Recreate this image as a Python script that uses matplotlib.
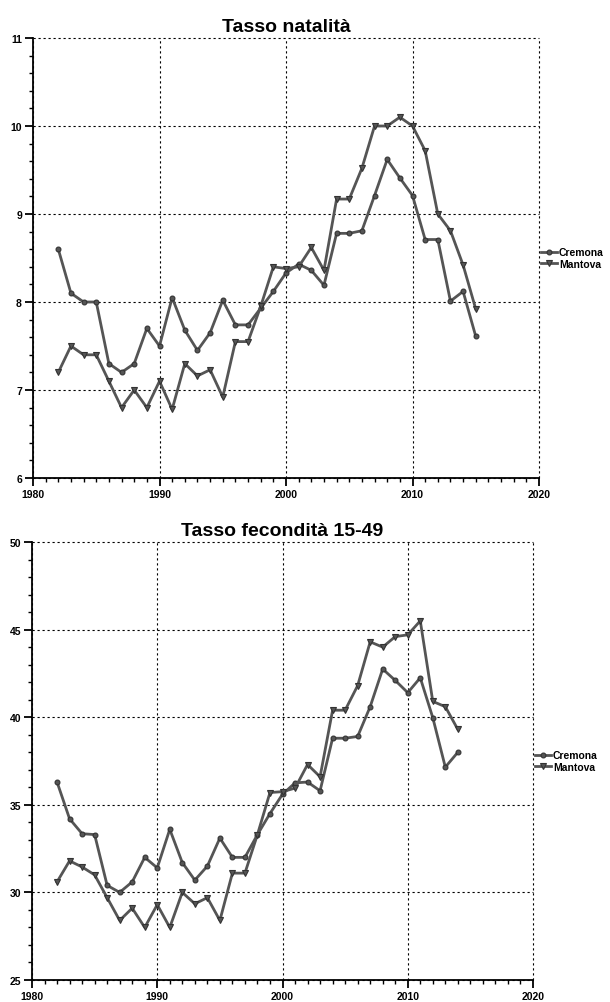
import numpy as np
import matplotlib
matplotlib.use('Agg')
import matplotlib.pyplot as plt
from matplotlib.ticker import MultipleLocator

# anni
anni = list(range(1982, 2016))
anni_fec = list(range(1982, 2015))

# Tasso natalità
natalita_cremona = [8.6, 8.1, 8.0, 8.0, 7.3, 7.2, 7.3, 7.7, 7.5, 8.05,
                    7.68, 7.45, 7.65, 8.02, 7.74, 7.74, 7.93, 8.12, 8.33, 8.43,
                    8.36, 8.19, 8.78, 8.78, 8.81, 9.21, 9.62, 9.41, 9.21, 8.71,
                    8.71, 8.01, 8.12, 7.61]
natalita_mantova = [7.2, 7.5, 7.4, 7.4, 7.1, 6.8, 7.0, 6.8, 7.1, 6.78,
                    7.3, 7.16, 7.23, 6.92, 7.55, 7.55, 7.95, 8.4, 8.38, 8.4,
                    8.62, 8.36, 9.17, 9.17, 9.52, 10.0, 10.0, 10.1, 10.0, 9.72,
                    9.0, 8.81, 8.42, 7.92]

# Tasso fecondità 15-49
fecondita_cremona = [36.3, 34.2, 33.35, 33.3, 30.4, 30.0, 30.6, 32.0, 31.4, 33.6,
                     31.7, 30.7, 31.5, 33.1, 32.0, 32.0, 33.3, 34.5, 35.6, 36.25,
                     36.3, 35.8, 38.8, 38.8, 38.9, 40.6, 42.75, 42.1, 41.4, 42.25,
                     39.97, 37.15, 38.0]
fecondita_mantova = [30.6, 31.8, 31.45, 31.0, 29.7, 28.4, 29.1, 28.0, 29.3, 28.0,
                     30.0, 29.35, 29.7, 28.4, 31.1, 31.1, 33.3, 35.7, 35.75, 35.95,
                     37.3, 36.6, 40.4, 40.4, 41.8, 44.3, 44.0, 44.6, 44.7, 45.5,
                     40.9, 40.6, 39.3]

line_col = '#555555'
edge_col = '#333333'
tick_font = ['Liberation Sans Narrow', 'Liberation Sans', 'DejaVu Sans']

fig = plt.figure(figsize=(6.10, 10.03), dpi=100)
W, H = 610, 1003


def make_axes(left, top, right, bottom):
    return fig.add_axes([left / W, 1 - bottom / H, (right - left) / W, (bottom - top) / H])


def draw(ax, x, cre, man, ylim, ymaj, ymin, title):
    ax.plot(x, cre, color=line_col, linewidth=2.0, marker='o', markersize=3.5,
            markerfacecolor=line_col, markeredgecolor=edge_col, markeredgewidth=0.8,
            label='Cremona', zorder=3)
    ax.plot(x, man, color=line_col, linewidth=2.0, marker='v', markersize=4.5,
            markerfacecolor=line_col, markeredgecolor=edge_col, markeredgewidth=0.8,
            label='Mantova', zorder=3)
    ax.set_xlim(1980, 2020)
    ax.set_ylim(*ylim)
    ax.xaxis.set_major_locator(MultipleLocator(10))
    ax.xaxis.set_minor_locator(MultipleLocator(1))
    ax.yaxis.set_major_locator(MultipleLocator(ymaj))
    ax.yaxis.set_minor_locator(MultipleLocator(ymin))
    ax.grid(True, which='major', color='black', linestyle=(0, (2, 2.5)), linewidth=0.8)
    for gl in ax.get_xgridlines() + ax.get_ygridlines():
        gl.set_clip_on(False)
    ax.spines['top'].set_visible(False)
    ax.spines['right'].set_visible(False)
    ax.spines['left'].set_linewidth(1.3)
    ax.spines['bottom'].set_linewidth(1.3)
    ax.tick_params(which='major', direction='out', length=6, width=1.3, pad=2)
    ax.tick_params(which='minor', direction='out', length=3, width=1.0)
    for lab in ax.get_xticklabels() + ax.get_yticklabels():
        lab.set_family(tick_font)
        lab.set_fontweight('bold')
        lab.set_fontsize(7.5)
    ax.set_title(title, fontsize=14, fontweight='bold', family=['Liberation Sans', 'DejaVu Sans'], pad=5)
    ax.legend(loc='center left', bbox_to_anchor=(1.0, 0.5), frameon=False,
              handlelength=1.5, handletextpad=0.2, borderaxespad=0.1, borderpad=0.1,
              labelspacing=0.1, prop={'family': tick_font, 'weight': 'bold', 'size': 7.5})


ax1 = make_axes(33, 39, 539, 479)
draw(ax1, anni, natalita_cremona, natalita_mantova, (6, 11), 1, 0.2, 'Tasso natalità')

ax2 = make_axes(32, 543, 533, 981)
draw(ax2, anni_fec, fecondita_cremona, fecondita_mantova, (25, 50), 5, 1, 'Tasso fecondità 15-49')

fig.savefig('out.png', dpi=100)
